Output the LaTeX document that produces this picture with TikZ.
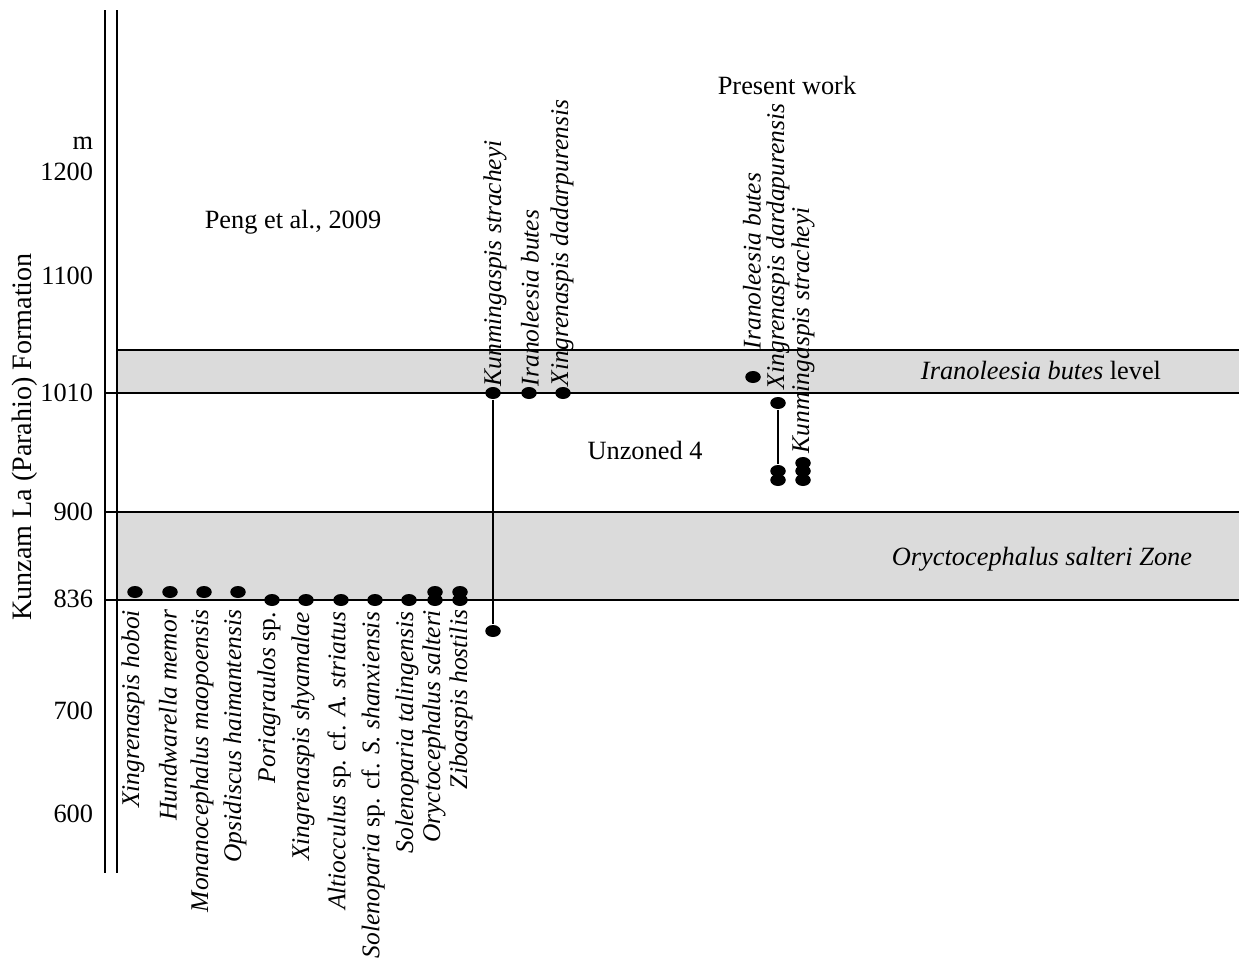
\documentclass[tikz,border=0pt]{standalone}
\usepackage{fontspec}
\setmainfont{Liberation Serif}
\usetikzlibrary{shapes.geometric}

\begin{document}
\begin{tikzpicture}[
          x = 0.02cm, y = -0.02cm,
       font = \fontsize{15}{18}\selectfont,
     every path/.style = {line width=1.1pt},
Band/.style = {fill=black!14, draw=none},
Fossil/.style = {ellipse, fill=black, inner sep=0pt,
                minimum width=0.31cm, minimum height=0.24cm},
Taxon/.style = {rotate=90, inner sep=0pt,
                font=\fontsize{14.5}{17}\selectfont\itshape},
TaxonDown/.style = {Taxon, anchor=east},
TaxonUp/.style = {Taxon, anchor=west},
Depth/.style = {anchor=east, inner sep=0pt},
  ]
\useasboundingbox (0,0) rectangle (1239,961);
% zones
\fill[Band] (117,350) rectangle (1239,393);
\fill[Band] (117,512) rectangle (1239,600);
% column
\draw (105,10) -- (105,873);
\draw (117,10) -- (117,873);
\draw (117,350) -- (1239,350);
\draw (105,393) -- (1239,393);
\draw (105,512) -- (1239,512);
\draw (105,600) -- (1239,600);
% depth scale
\node [Depth] (m)  at (94,143) {m};
\node [Depth] (d1200) at (94,172) {1200};
\node [Depth] (d1100) at (94,276) {1100};
\node [Depth] (d1010) at (94,393) {1010};
\node [Depth] (d900)  at (94,512) {900};
\node [Depth] (d836)  at (94,599) {836};
\node [Depth] (d700)  at (94,711) {700};
\node [Depth] (d600)  at (94,814) {600};
\node [rotate=90, font=\fontsize{16}{19}\selectfont] (formation) at (25,437)
      {Kunzam La (Parahio) Formation};
% headings
\node (peng)    at (293,222) {Peng et al., 2009};
\node (present) at (787,85)  {Present work};
\node (unzoned) at (645,450) {Unzoned 4};
\node (ibutes)  at (1041,370) {\textit{Iranoleesia butes} level};
\node (osalt)   at (1042,559) {\textit{Oryctocephalus salteri Zone}};
% Peng et al. -- lower taxa
\node [Fossil] (f1)  at (135,592) {};
\node [Fossil] (f2)  at (170,592) {};
\node [Fossil] (f3)  at (204,592) {};
\node [Fossil] (f4)  at (238,592) {};
\node [Fossil] (f5)  at (272,600) {};
\node [Fossil] (f6)  at (306,600) {};
\node [Fossil] (f7)  at (341,600) {};
\node [Fossil] (f8)  at (375,600) {};
\node [Fossil] (f9)  at (409,600) {};
\node [Fossil] (f10a) at (435,592) {};
\node [Fossil] (f10b) at (435,600) {};
\node [Fossil] (f11a) at (460,592) {};
\node [Fossil] (f11b) at (460,600) {};
\node [TaxonDown] (t1)  at (133,609) {Xingrenaspis hoboi};
\node [TaxonDown] (t2)  at (168,609) {Hundwarella memor};
\node [TaxonDown] (t3)  at (202,609) {Monanocephalus maopoensis};
\node [TaxonDown] (t4)  at (235,609) {Opsidiscus haimantensis};
\node [TaxonDown] (t5)  at (269,611) {Poriagraulos \textup{sp.}};
\node [TaxonDown] (t6)  at (303,611) {Xingrenaspis shyamalae};
\node [TaxonDown] (t7)  at (339,611) {Altiocculus \textup{sp. cf.} A. striatus};
\node [TaxonDown] (t8)  at (373,611) {Solenoparia \textup{sp. cf.} S. shanxiensis};
\node [TaxonDown] (t9)  at (407,611) {Solenoparia talingensis};
\node [TaxonDown] (t10) at (434,609) {Oryctocephalus salteri};
\node [TaxonDown] (t11) at (461,609) {Ziboaspis hostilis};
% Peng et al. -- upper taxa
\node [Fossil] (kunTop) at (493,393) {};
\node [Fossil] (kunBot) at (493,631) {};
\node [Fossil] (iran)   at (529,393) {};
\node [Fossil] (xdad)   at (563,393) {};
\draw (kunTop) -- (kunBot);
\node [TaxonUp] (tk) at (495,387) {Kunmingaspis stracheyi};
\node [TaxonUp] (ti) at (530,387) {Iranoleesia butes};
\node [TaxonUp] (tx) at (562,387) {Xingrenaspis dadarpurensis};
% present work
\node [Fossil] (pIran)  at (753,377) {};
\node [Fossil] (pXTop)  at (778,403) {};
\node [Fossil] (pXMid)  at (778,471) {};
\node [Fossil] (pXBot)  at (778,480) {};
\node [Fossil] (pK1)    at (803,463) {};
\node [Fossil] (pK2)    at (803,471) {};
\node [Fossil] (pK3)    at (803,480) {};
\draw (pXTop) -- (pXMid);
\node [TaxonUp] (pti) at (752,350) {Iranoleesia butes};
\node [TaxonUp] (ptx) at (778,390) {Xingrenaspis dardapurensis};
\node [TaxonUp] (ptk) at (803,454) {Kunmingaspis stracheyi};
\end{tikzpicture}
\end{document}
